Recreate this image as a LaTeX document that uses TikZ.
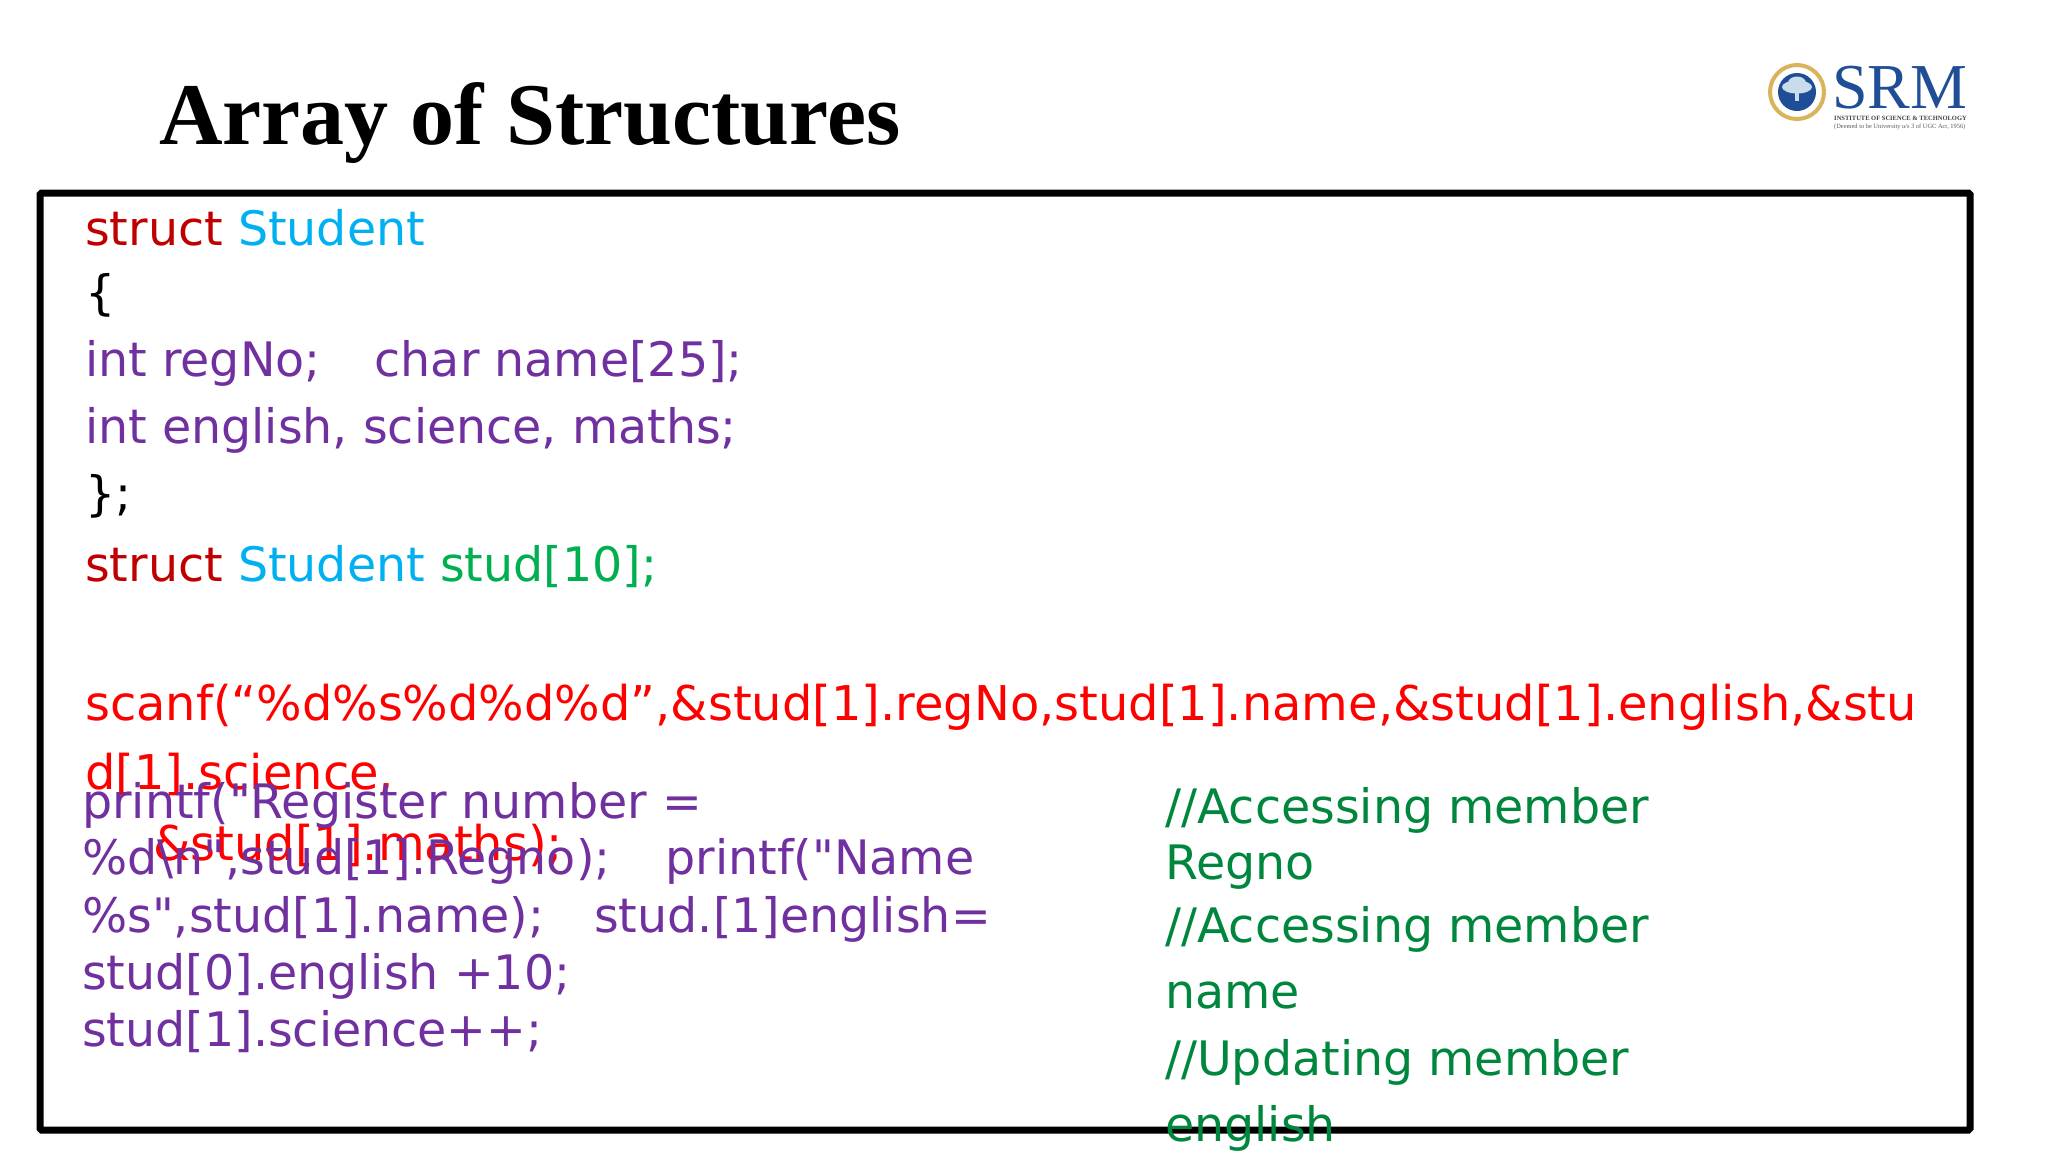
\documentclass[tikz,border=0pt]{standalone}
\usepackage{fontspec}
\usepackage{xcolor}
\usetikzlibrary{positioning,shapes.geometric}
\setmainfont{DejaVu Sans}[Ligatures=TeXOff]
\newfontfamily\titlefont{Liberation Serif}
\definecolor{keyred}{HTML}{C00000}
\definecolor{typeblue}{HTML}{00B0F0}
\definecolor{codepurple}{HTML}{7030A0}
\definecolor{varggreen}{HTML}{00B050}
\definecolor{notegreen}{HTML}{00863D}
\definecolor{srmblue}{HTML}{1F4E96}
\definecolor{srmgold}{HTML}{D9B45B}
\definecolor{srmpale}{HTML}{C9DCEC}
\begin{document}
\begin{tikzpicture}[x=1pt,y=-1pt,
    codeline/.style={anchor=base west,inner sep=0pt,font=\fontsize{47.5}{47.5}\selectfont},
    printline/.style={codeline,text=codepurple},
    scanline/.style={codeline,text=red,font=\fontsize{47.9}{47.9}\selectfont},
    noteline/.style={codeline,text=notegreen},
    treepart/.style={ellipse,fill=srmpale,inner sep=0pt}]
    \useasboundingbox (0,0) rectangle (2048,1152);
    \node[anchor=base west,inner sep=0pt,font=\titlefont\bfseries\fontsize{88}{88}\selectfont] (title) at (159,144) {Array of Structures};
    \node[draw,line width=7pt,rounded corners=1.5pt,outer sep=0pt,minimum width=1930pt,minimum height=937pt,inner sep=0pt,anchor=north west] (frame) at (40,193) {};

    \node[codeline] (l1) at (85,245) {\textcolor{keyred}{struct} \textcolor{typeblue}{Student}};
    \node[codeline,below=64pt of l1.base west,anchor=base west] (l2) {\{};
    \node[printline,below=67pt of l2.base west,anchor=base west] (l3) {int regNo;\hspace{54pt}char name[25];};
    \node[printline,below=67pt of l3.base west,anchor=base west] (l4) {int english, science, maths;};
    \node[codeline,below=67pt of l4.base west,anchor=base west] (l5) {\};};
    \node[codeline,below=71pt of l5.base west,anchor=base west] (l6) {\textcolor{keyred}{struct} \textcolor{typeblue}{Student} \textcolor{varggreen}{stud[10];}};

    \node[scanline] (s1) at (85,720) {scanf(“\%d\%s\%d\%d\%d”,\&stud[1].regNo,stud[1].name,\&stud[1].english,\&stu};
    \node[scanline,below=69pt of s1.base west,anchor=base west] (s2) {d[1].science,};
    \node[scanline] (s3) at (153,860) {\&stud[1].maths);};

    \node[printline] (p1) at (82,818) {printf("Register number =};
    \node[printline,below=56pt of p1.base west,anchor=base west] (p2) {\%d\textbackslash n",stud[1].Regno);\hspace{55pt}printf("Name};
    \node[printline,below=58pt of p2.base west,anchor=base west] (p3) {\%s",stud[1].name);\hspace{50pt}stud.[1]english=};
    \node[printline,below=57pt of p3.base west,anchor=base west] (p4) {stud[0].english +10;};
    \node[printline,below=57pt of p4.base west,anchor=base west] (p5) {stud[1].science++;};

    \node[noteline] (n1) at (1165,823) {//Accessing member};
    \node[noteline,below=56pt of n1.base west,anchor=base west] (n2) {Regno};
    \node[noteline,below=63pt of n2.base west,anchor=base west] (n3) {//Accessing member};
    \node[noteline,below=66pt of n3.base west,anchor=base west] (n4) {name};
    \node[noteline,below=67pt of n4.base west,anchor=base west] (n5) {//Updating member};
    \node[noteline,below=66pt of n5.base west,anchor=base west] (n6) {english};

    \node[circle,draw=srmgold,line width=4pt,fill=white,minimum size=54pt,inner sep=0pt] (seal) at (1797,92) {};
    \node[circle,fill=srmblue,minimum size=38pt,inner sep=0pt] (disc) at (seal.center) {};
    \node[treepart,minimum width=30pt,minimum height=13pt,yshift=5pt] (canopy) at (seal.center) {};
    \node[treepart,minimum width=18pt,minimum height=13pt,yshift=9pt] (crown) at (seal.center) {};
    \node[fill=srmpale,minimum width=4pt,minimum height=14pt,inner sep=0pt,below=0pt of canopy.center,anchor=north] (trunk) {};
    \node[anchor=base west,inner sep=0pt,text=srmblue,font=\titlefont\fontsize{64}{64}\selectfont] (srm) at (1832,108) {SRM};
    \node[anchor=base west,inner sep=0pt,font=\titlefont\bfseries\fontsize{6.5}{6.5}\selectfont,text=black!75] (inst) at (1834,120) {INSTITUTE OF SCIENCE \& TECHNOLOGY};
    \node[anchor=base west,inner sep=0pt,font=\titlefont\fontsize{6.4}{6.4}\selectfont,text=black!65] (deemed) at (1834,128) {(Deemed to be University u/s 3 of UGC Act, 1956)};
\end{tikzpicture}
\end{document}
